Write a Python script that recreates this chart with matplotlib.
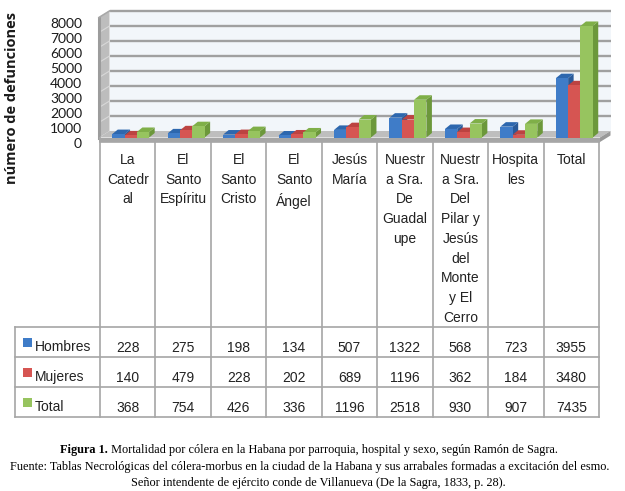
import matplotlib
matplotlib.use("Agg")
from matplotlib import pyplot as plt, patches
from matplotlib.lines import Line2D

# data
categorias = ["La\nCatedr\nal", "El\nSanto\nEspíritu", "El\nSanto\nCristo",
              "El\nSanto\nÁngel", "Jesús\nMaría", "Nuestr\na Sra.\nDe\nGuadal\nupe",
              "Nuestr\na Sra.\nDel\nPilar y\nJesús\ndel\nMonte\ny El\nCerro",
              "Hospita\nles", "Total"]
series = ["Hombres", "Mujeres", "Total"]
hombres = [228, 275, 198, 134, 507, 1322, 568, 723, 3955]
mujeres = [140, 479, 228, 202, 689, 1196, 362, 184, 3480]
total = [368, 754, 426, 336, 1196, 2518, 930, 907, 7435]
yticks = [0, 1000, 2000, 3000, 4000, 5000, 6000, 7000, 8000]

caption_bold = "Figura 1."
caption_1 = " Mortalidad por cólera en la Habana por parroquia, hospital y sexo, según Ramón de Sagra."
caption_2 = ("Fuente: Tablas Necrológicas del cólera-morbus en la ciudad de la Habana "
             "y sus arrabales formadas a excitación del esmo.")
caption_3 = "Señor intendente de ejército conde de Villanueva (De la Sagra, 1833, p. 28)."

valores = [hombres, mujeres, total]
col_front = ['#3F7CC8', '#D65552', '#97C45F']
col_top = ['#2D67AE', '#BC4341', '#7FAF48']
col_side = ['#2A5A98', '#A63A38', '#6C983B']

W, H = 625, 491
fig = plt.figure(figsize=(W / 100, H / 100), dpi=100)
fig.patch.set_facecolor('white')

# background axes in pixel coordinates (y down)
bg = fig.add_axes([0, 0, 1, 1])
bg.set_xlim(0, W)
bg.set_ylim(H, 0)
bg.axis('off')

# chart axes: x -0.5..8.5 over 100..599 px, y 0..8000 over 137.5..17.5 px
x_left, x_right = 100, 599
y_base, y_top = 137.5, 17.5
ax = fig.add_axes([x_left / W, 1 - y_base / H, (x_right - x_left) / W, (y_base - y_top) / H])
ax.set_xlim(-0.5, 8.5)
ax.set_ylim(0, 8000)
ax.axis('off')
ax.patch.set_alpha(0)

px = 9 / (x_right - x_left)          # x data units per pixel
py = 8000 / (y_base - y_top)         # y data units per pixel

# walls and floor
dwx, dwy = 10.5 * px, 6.5 * py
x0w, x1w = -0.5 - 1 * px, 8.5 + 1 * px
back = patches.Polygon([(x0w + dwx, dwy), (x1w + dwx, dwy), (x1w + dwx, 8000 + dwy),
                        (x0w + dwx, 8000 + dwy)], closed=True, fc='#F2F6FA', ec='none',
                       clip_on=False, zorder=1)
ax.add_patch(back)
for v in yticks[1:]:
    ax.plot([x0w + dwx, x1w + dwx], [v + dwy, v + dwy], color='#A0A0A0', lw=1.7,
            clip_on=False, zorder=2, solid_capstyle='butt')
    ax.plot([x0w, x0w + dwx], [v, v + dwy], color='#D8D8D8', lw=0.8,
            clip_on=False, zorder=3.5)
left = patches.Polygon([(x0w, 0), (x0w + dwx, dwy), (x0w + dwx, 8000 + dwy), (x0w, 8000)],
                       closed=True, fc='#BDBDBD', ec='none', clip_on=False, zorder=3)
ax.add_patch(left)
ax.plot([x0w, x0w], [0, 8000], color='#9C9C9C', lw=2.2, clip_on=False, zorder=3.6)
ax.plot([x0w, x0w + dwx], [8000, 8000 + dwy], color='#A8A8A8', lw=1.2, clip_on=False, zorder=3.6)
floor = patches.Polygon([(x0w, 0), (x1w, 0), (x1w + dwx, dwy), (x0w + dwx, dwy)],
                        closed=True, fc='#BEBEBE', ec='none', clip_on=False, zorder=4)
ax.add_patch(floor)
slab = 4.5 * py
ax.add_patch(patches.Polygon([(x0w, 0), (x1w, 0), (x1w, -slab), (x0w, -slab)], closed=True,
                             fc='#A6A6A6', ec='none', clip_on=False, zorder=4))
ax.add_patch(patches.Polygon([(x1w, 0), (x1w + dwx, dwy), (x1w + dwx, dwy - slab), (x1w, -slab)],
                             closed=True, fc='#999999', ec='none', clip_on=False, zorder=4))

# y tick labels on the front plane
for v in yticks:
    ax.text(-0.5 - 18 * px, v - 6 * py, str(v), ha='right', va='center', fontsize=10,
            family='Lato', color='#1a1a1a', clip_on=False)

# 3D bars
w = 0.222
shift = 3 * px
bdx, bdy = 5.5 * px, 4.5 * py
for i in range(len(categorias)):
    for s in range(3):
        h = valores[s][i]
        x0 = i + (s - 1) * w - w / 2 + shift
        z = 10 + i * 3 + s
        ax.add_patch(patches.Polygon([(x0 + w, 0), (x0 + w + bdx, bdy), (x0 + w + bdx, h + bdy),
                                      (x0 + w, h)], closed=True, fc=col_side[s], ec='none',
                                     clip_on=False, zorder=z))
        ax.add_patch(patches.Polygon([(x0, h), (x0 + w, h), (x0 + w + bdx, h + bdy),
                                      (x0 + bdx, h + bdy)], closed=True, fc=col_top[s], ec='none',
                                     clip_on=False, zorder=z))
        ax.bar(x0, h, width=w, align='edge', color=col_front[s], zorder=z + 0.5, clip_on=False)

# table
lc, lw = '#A6A6A6', 1.2
tbl_font = 'Liberation Sans'
col_w = (x_right - x_left) / len(categorias)
head_top = 142
rows = [327, 357, 387, 417]
for k in range(len(categorias) + 1):
    xx = x_left + k * col_w
    bg.add_line(Line2D([xx, xx], [head_top, rows[-1]], color=lc, lw=lw))
bg.add_line(Line2D([15, 15], [rows[0], rows[-1]], color=lc, lw=lw))
bg.add_line(Line2D([x_left, x_right], [head_top, head_top], color=lc, lw=lw))
for r in rows:
    bg.add_line(Line2D([15, x_right], [r, r], color=lc, lw=lw))

for i, c in enumerate(categorias):
    bg.text(x_left + (i + 0.5) * col_w, 153, c, ha='center', va='top', fontsize=10,
            family=tbl_font, linespacing=1.52, color='#222222')

for s in range(3):
    yb = rows[s + 1] - 5
    bg.add_patch(patches.Rectangle((23, rows[s] + 11), 9, 9, fc=col_front[s], ec='none'))
    bg.text(35, yb - 1, series[s], ha='left', va='baseline', fontsize=10,
            family=tbl_font, color='#222222')
    for i in range(len(categorias)):
        bg.text(x_left + (i + 0.5) * col_w, yb, str(valores[s][i]), ha='center',
                va='baseline', fontsize=10, family=tbl_font, color='#222222')

# y axis title
bg.text(12.5, 98, 'número de defunciones', rotation=90, ha='center', va='center',
        fontsize=10.5, fontweight='bold', family='Open Sans', color='#1a1a1a')

# caption
cap_kw = dict(fontsize=8.8, family='Liberation Serif', color='black', va='center')
r = fig.canvas.get_renderer()
tb = bg.text(0, 450, caption_bold, fontweight='bold', **cap_kw)
tr = bg.text(0, 450, caption_1, **cap_kw)
wb = tb.get_window_extent(r).width
wr = tr.get_window_extent(r).width
start = 309 - (wb + wr) / 2
tb.set_x(start)
tr.set_x(start + wb)
bg.text(309.5, 467, caption_2, ha='center', **cap_kw)
bg.text(318, 483, caption_3, ha='center', **cap_kw)

fig.savefig('out.png', dpi=100)
